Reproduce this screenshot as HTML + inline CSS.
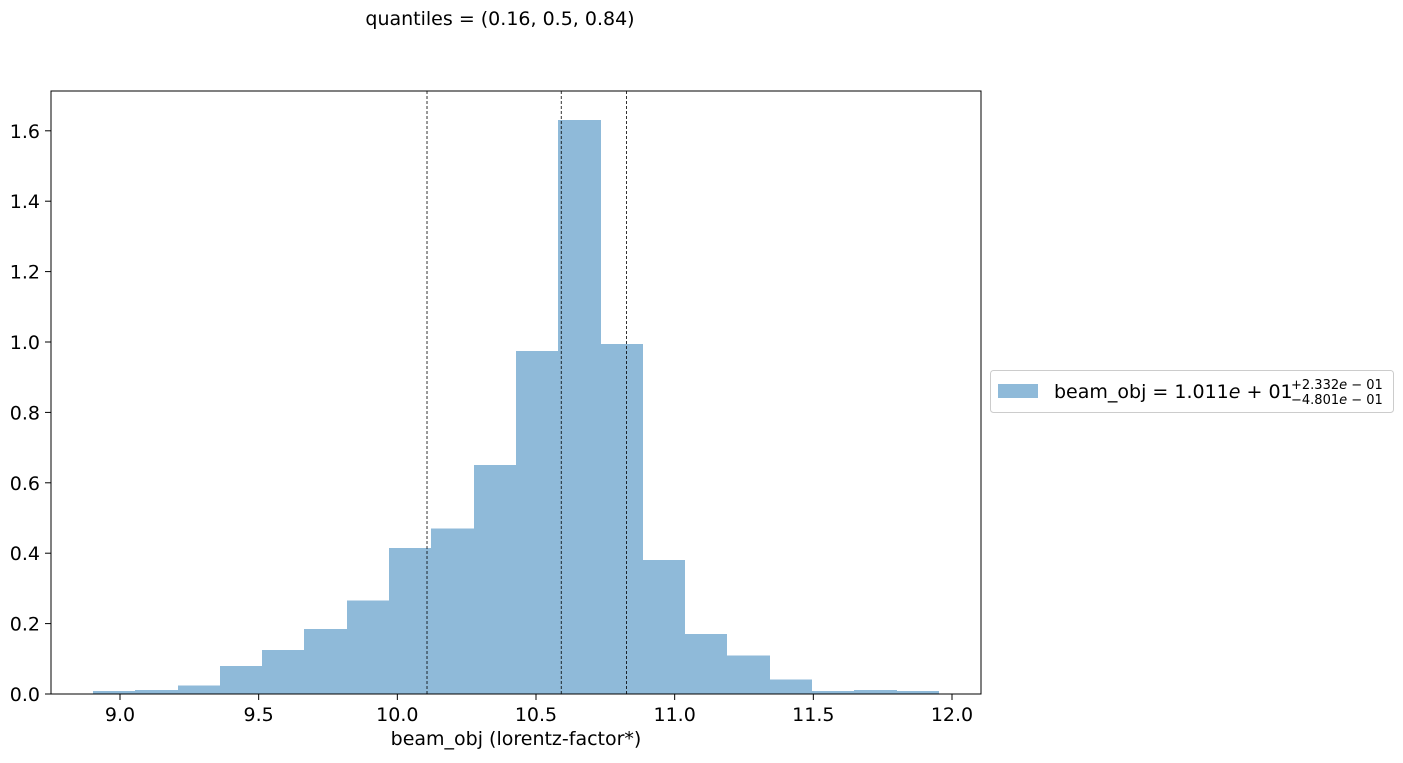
<!DOCTYPE html>
<html><head><meta charset="utf-8"><style>
body{margin:0;background:#fff;}
svg text{font-family:"DejaVu Sans","Liberation Sans",sans-serif;fill:#000;}
</style></head><body>
<svg id="chart" width="1403" height="758">
<text x="500" y="25" font-size="19" text-anchor="middle">quantiles = (0.16, 0.5, 0.84)</text>
<g id="bars" shape-rendering="crispEdges"></g>
<g id="qlines"></g>
<rect x="51" y="91" width="930" height="603" fill="none" stroke="#000" stroke-width="1"/>
<g id="xticks"></g>
<g id="yticks"></g>
<text x="516" y="745" font-size="19" text-anchor="middle">beam_obj (lorentz-factor*)</text>
<g>
<rect x="990.5" y="370.5" width="403" height="42" rx="3" fill="#fff" stroke="#ccc"/>
<rect x="998" y="384" width="40" height="14" fill="#8fbad9"/>
<text x="1054" y="398" font-size="19">beam_obj = 1.011<tspan font-style="italic">e</tspan> + 01</text>
<text x="1291" y="389" font-size="13">+2.332<tspan font-style="italic">e</tspan> − 01</text>
<text x="1291" y="404" font-size="13">−4.801<tspan font-style="italic">e</tspan> − 01</text>
</g>
</svg>
<script>
const binStart = 8.9026;
const binWidth = 0.1525;
const heights = [0.0085,0.011,0.024,0.08,0.125,0.185,0.265,0.415,0.47,0.65,0.975,1.63,0.995,0.38,0.17,0.11,0.041,0.0085,0.011,0.0085];
const quantiles = [10.107,10.591,10.826];
const xTicks = [9.0,9.5,10.0,10.5,11.0,11.5,12.0];
const yTicks = [0.0,0.2,0.4,0.6,0.8,1.0,1.2,1.4,1.6];
const NS="http://www.w3.org/2000/svg";
const X=v=>120+(v-9)*(832/3);
const Y=v=>694-v*352;
function mk(t,a,p){const e=document.createElementNS(NS,t);for(const k in a)e.setAttribute(k,a[k]);p.appendChild(e);return e;}
const gb=document.getElementById('bars');
heights.forEach((h,i)=>{const x0=Math.round(X(binStart+i*binWidth)),x1=Math.round(X(binStart+(i+1)*binWidth));
const r=mk('rect',{x:x0,y:Y(h),width:x1-x0,height:694-Y(h),fill:'#8fbad9'},gb);

});
const gq=document.getElementById('qlines');
quantiles.forEach(q=>{const l=mk('line',{x1:X(q),x2:X(q),y1:91,y2:694,stroke:'#000','stroke-width':0.8,'stroke-dasharray':'3,2'},gq);

});
const gx=document.getElementById('xticks');
xTicks.forEach(v=>{mk('line',{x1:X(v),x2:X(v),y1:694,y2:700,stroke:'#000'},gx);
const t=mk('text',{x:X(v),y:721,'font-size':19,'text-anchor':'middle'},gx);t.textContent=v.toFixed(1);

});
const gy=document.getElementById('yticks');
yTicks.forEach(v=>{mk('line',{x1:45,x2:51,y1:Y(v),y2:Y(v),stroke:'#000'},gy);
const t=mk('text',{x:40,y:Y(v)+7,'font-size':19,'text-anchor':'end'},gy);t.textContent=v.toFixed(1);

});
</script>
</body></html>
